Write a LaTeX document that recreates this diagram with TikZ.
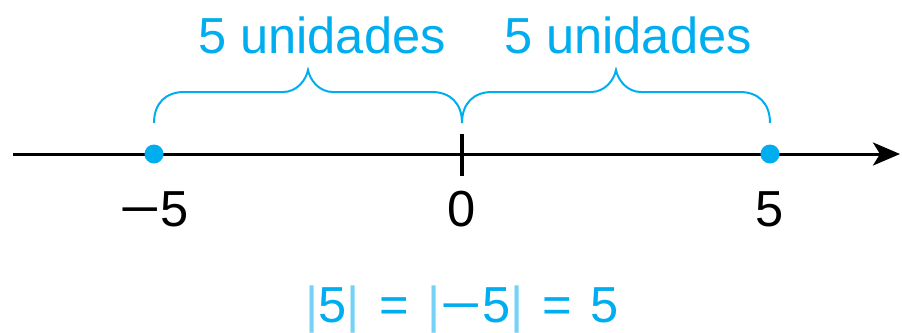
\documentclass[tikz,border=0pt]{standalone}
\usepackage{fontspec}
\setmainfont{Liberation Sans}
\usepackage{graphicx}
\usepackage{xcolor}
\usetikzlibrary{positioning,arrows.meta,calc}
\definecolor{cblue}{HTML}{00AEEF}
\newcommand{\wideminus}{\scalebox{1.4}[1]{−}}
\newcommand{\absbar}{{\color{cblue!55}|}}

\begin{document}
\begin{tikzpicture}[
  x=0.01cm, y=0.01cm,
  font=\fontsize{14.4}{17}\selectfont,
  axis/.style={line width=0.03cm, black},
  arr/.style={-{Stealth[length=0.27cm, width=0.23cm, inset=0.07cm]}},
  dot/.style={circle, fill=cblue, inner sep=0pt, minimum size=0.19cm},
  brace/.style={cblue, line width=0.02cm},
  num/.style={anchor=base, inner sep=0pt},
  ulabel/.style={anchor=base, inner sep=0pt, text=cblue}
]
\useasboundingbox (0,0) rectangle (902,332);
% Number line
\coordinate (start) at (13,178);
\coordinate (tip) at (900,178);
\coordinate (zero) at (462,178);
\draw[axis, arr] (start) -- (tip);
\draw[axis] ($(zero)+(0,20)$) -- ($(zero)+(0,-22)$);
\node[dot] (m5) at (154,178) {};
\node[dot] (p5) at (770,178) {};
% Tick labels
\node[num] (lm5) at ($(m5)+(0,-72)$) {\wideminus5};
\node[num] (lzero) at ($(zero)+(0,-72)$) {0};
\node[num] (lp5) at ($(p5)+(0,-72)$) {5};
% Braces: -5 to 0 and 0 to 5
\draw[brace] ($(m5)+(0,31)$) .. controls +(0,20) and +(-18,0) .. ++(30,31)
  -- ++(99,0) .. controls +(14,0) and +(-2,-10) .. ++(25,22)
  .. controls +(2,-10) and +(-14,0) .. ++(25,-22)
  -- ++(99,0) .. controls +(18,0) and +(0,20) .. ++(30,-31);
\draw[brace] ($(zero)+(0,31)$) .. controls +(0,20) and +(-18,0) .. ++(30,31)
  -- ++(99,0) .. controls +(14,0) and +(-2,-10) .. ++(25,22)
  .. controls +(2,-10) and +(-14,0) .. ++(25,-22)
  -- ++(99,0) .. controls +(18,0) and +(0,20) .. ++(30,-31);
\node[ulabel] (uleft) at ($(m5)+(168,101)$) {5 unidades};
\node[ulabel] (uright) at ($(zero)+(166,101)$) {5 unidades};
% Absolute value
\node[ulabel] (absval) at ($(zero)+(0,-168)$)
  {\absbar5\absbar\hspace{0.05cm} = \hspace{0.05cm}\absbar\wideminus5\absbar\hspace{0.05cm} = \hspace{0.04cm}5};
\end{tikzpicture}
\end{document}
